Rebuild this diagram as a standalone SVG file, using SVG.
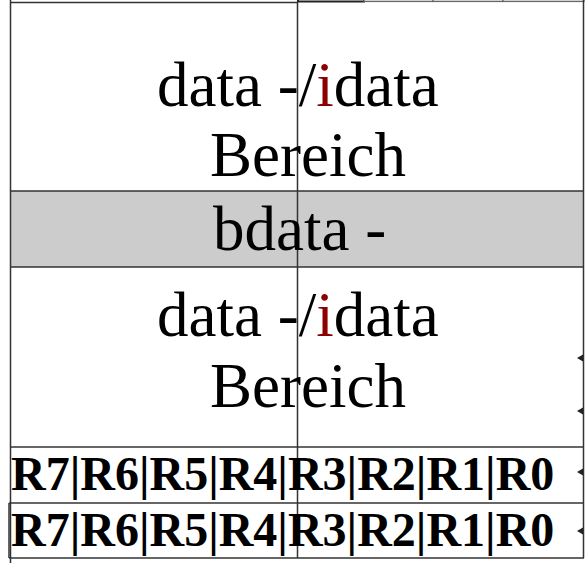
<svg xmlns="http://www.w3.org/2000/svg" width="585" height="563" viewBox="0 0 585 563">
<style>
.ln{stroke:#333;stroke-width:1.5;fill:none}
.big{font-family:"Liberation Serif","Times New Roman",serif;font-size:63px;fill:#000}
.reg{font-family:"Liberation Serif","Times New Roman",serif;font-size:48px;font-weight:bold;fill:#000}
.red{fill:#8b0000}
.tab{fill:#ddd;stroke:#666;stroke-width:1.2}
.tip{fill:#222}
</style>
<rect width="585" height="563" fill="#fff"/>
<g id="top-tabs">
<rect x="298" y="-10" width="66" height="11.5" fill="#fff" stroke="#222" stroke-width="2"/>
<rect class="tab" x="364" y="-10" width="69" height="11.5"/>
<rect class="tab" x="433" y="-10" width="70" height="11.5"/>
<rect class="tab" x="503" y="-10" width="81" height="11.5"/>
</g>
<g id="band" >
<rect x="11" y="191" width="573" height="76" fill="#ccc"/>
</g>
<g id="connectors">
<line class="ln" x1="10.5" y1="0" x2="10.5" y2="563"/>
<line class="ln" x1="11" y1="2.5" x2="298" y2="2.5" stroke-width="2"/>
<line class="ln" x1="297.5" y1="2" x2="297.5" y2="558"/>
<line class="ln" x1="583.5" y1="0" x2="583.5" y2="558"/>
<line class="ln" x1="11" y1="191" x2="584" y2="191"/>
<line class="ln" x1="11" y1="267" x2="584" y2="267"/>
<line class="ln" x1="11" y1="447" x2="584" y2="447"/>
<line class="ln" x1="9" y1="503" x2="584" y2="503"/>
<line class="ln" x1="9" y1="558" x2="584" y2="558"/>
<line class="ln" x1="9" y1="503" x2="9" y2="558"/>
<polygon class="tip" points="577,358 583,354.5 583,361.5"/>
<polygon class="tip" points="577,411 583,407.5 583,414.5"/>
<polygon class="tip" points="577,472 583,468.5 583,475.5"/>
<polygon class="tip" points="577,531 583,527.5 583,534.5"/>
</g>
<g id="area1">
<text class="big" x="157" y="106">data -/<tspan class="red">i</tspan>data</text>
<text class="big" x="210" y="176">Bereich</text>
</g>
<g id="bdata">
<text class="big" x="213" y="250">bdata -</text>
</g>
<g id="area2">
<text class="big" x="157" y="336">data -/<tspan class="red">i</tspan>data</text>
<text class="big" x="210" y="407">Bereich</text>
</g>
<g id="reg1">
<text class="reg" x="11" y="490">R7|R6|R5|R4|R3|R2|R1|R0</text>
</g>
<g id="reg2">
<text class="reg" x="11" y="546">R7|R6|R5|R4|R3|R2|R1|R0</text>
</g>
</svg>
